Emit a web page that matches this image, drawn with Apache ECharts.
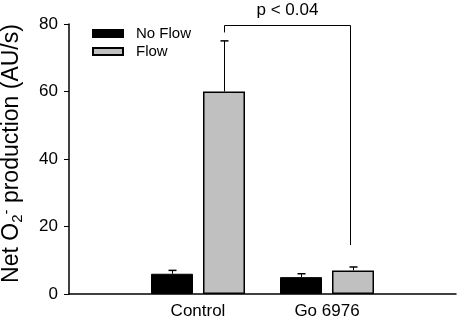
<!DOCTYPE html>
<html>
<head>
<meta charset="utf-8">
<script src="https://cdn.jsdelivr.net/npm/echarts@6/dist/echarts.min.js"></script>
<style>
  html, body { margin: 0; padding: 0; background: #fff; }
  #chart { width: 457px; height: 317px; }
</style>
</head>
<body>
<div id="chart"></div>
<script>
// data
const categories = ['', 'Control', 'Go 6976', '']
const noFlow = [null, 6, 5, null]
const flow = [null, 60, 7, null]
const noFlowErr = [null, 1, 1, null]
const flowErr = [null, 15, 1, null]
const yTicks = [0, 20, 40, 60, 80]
// significance bracket: from Control/Flow to Go 6976/Flow
const bracketFrom = [1, 77.5]
const bracketTo = [2, 14.5]
const bracketTop = 79.8
const bracketText = 'p < 0.04'

const FONT = 'Liberation Sans, Arial, sans-serif'
const BAR_W = 42
const BAR_GAP = 10
const SHIFT = (BAR_W + BAR_GAP) / 2

const chart = echarts.init(document.getElementById('chart'))

function errSeries(vals, errs, side) {
  return {
    type: 'custom',
    silent: true,
    z: 1,
    data: vals.map((v, i) => (v == null ? null : [i, v, v + errs[i]])).filter(d => d),
    renderItem: (params, api) => {
      const base = api.coord([api.value(0), api.value(1)])
      const top = api.coord([api.value(0), api.value(2)])
      const x = Math.round(base[0] + side * SHIFT) + 0.5
      const st = { stroke: '#000', lineWidth: 1 }
      return {
        type: 'group',
        children: [
          { type: 'line', shape: { x1: x, y1: base[1], x2: x, y2: top[1] }, style: st },
          { type: 'line', shape: { x1: x - 4, y1: top[1], x2: x + 4, y2: top[1] }, style: { stroke: '#000', lineWidth: 1.5 } }
        ]
      }
    }
  }
}

const option = {
  animation: false,
  textStyle: { fontFamily: FONT },
  grid: { left: 69, right: 1, top: 24, bottom: 23, containLabel: false, outerBoundsMode: 'none' },
  legend: {
    orient: 'vertical',
    left: 87,
    top: 21,
    icon: 'rect',
    itemWidth: 30,
    itemHeight: 7,
    itemGap: 3,
    textStyle: { fontSize: 15, color: '#000', fontFamily: FONT, padding: [0, 0, 0, 8] },
    data: ['No Flow', 'Flow']
  },
  xAxis: {
    type: 'category',
    data: categories,
    boundaryGap: false,
    axisLine: { lineStyle: { color: '#000', width: 1.5 } },
    axisTick: { show: false },
    axisLabel: { fontSize: 17, color: '#000', margin: 9, fontFamily: FONT, interval: 0 },
    splitLine: { show: false }
  },
  yAxis: {
    type: 'value',
    min: yTicks[0],
    max: yTicks[yTicks.length - 1],
    interval: yTicks[1] - yTicks[0],
    axisLine: { show: true, lineStyle: { color: '#000', width: 1.5 } },
    axisTick: { show: true, length: 5, lineStyle: { color: '#000' } },
    axisLabel: { fontSize: 17, color: '#000', margin: 11, fontFamily: FONT },
    splitLine: { show: false },
    name: 'Net O{sub|2}{sup|-} production (AU/s)',
    nameLocation: 'middle',
    nameRotate: 90,
    nameGap: 44,
    nameTextStyle: {
      fontSize: 23,
      color: '#000',
      fontFamily: FONT,
      lineHeight: 26,
      padding: [0, 0, 0, 11],
      rich: {
        sub: { fontSize: 15, color: '#000', fontFamily: FONT, verticalAlign: 'bottom', lineHeight: 15 },
        sup: { fontSize: 15, color: '#000', fontFamily: FONT, verticalAlign: 'top', lineHeight: 15 }
      }
    }
  },
  series: [
    {
      name: 'No Flow',
      type: 'bar',
      data: noFlow,
      barWidth: BAR_W,
      barGap: (BAR_GAP / BAR_W * 100) + '%',
      itemStyle: { color: '#000', borderColor: '#000', borderWidth: 1 },
      z: 2
    },
    {
      name: 'Flow',
      type: 'bar',
      data: flow,
      barWidth: BAR_W,
      itemStyle: { color: '#c0c0c0', borderColor: '#000', borderWidth: 1.5 },
      z: 2
    },
    errSeries(noFlow, noFlowErr, -1),
    errSeries(flow, flowErr, 1),
    {
      type: 'custom',
      silent: true,
      data: [[bracketFrom[0], bracketFrom[1], bracketTo[0], bracketTo[1], bracketTop]],
      renderItem: (params, api) => {
        const a = api.coord([api.value(0), api.value(1)])
        const b = api.coord([api.value(2), api.value(3)])
        const t = api.coord([api.value(0), api.value(4)])
        const x1 = Math.round(a[0] + SHIFT) + 0.5
        const x2 = Math.round(b[0] + SHIFT) - 2.5
        const y = Math.round(t[1]) + 0.5
        return {
          type: 'group',
          children: [
            {
              type: 'polyline',
              shape: { points: [[x1, a[1]], [x1, y], [x2, y], [x2, b[1]]] },
              style: { stroke: '#000', lineWidth: 1, fill: null }
            },
            {
              type: 'text',
              x: (x1 + x2) / 2,
              y: y - 7,
              style: { text: bracketText, fontSize: 17, fontFamily: FONT, fill: '#000', align: 'center', verticalAlign: 'bottom' }
            }
          ]
        }
      }
    }
  ]
}

chart.setOption(option)
</script>
</body>
</html>
